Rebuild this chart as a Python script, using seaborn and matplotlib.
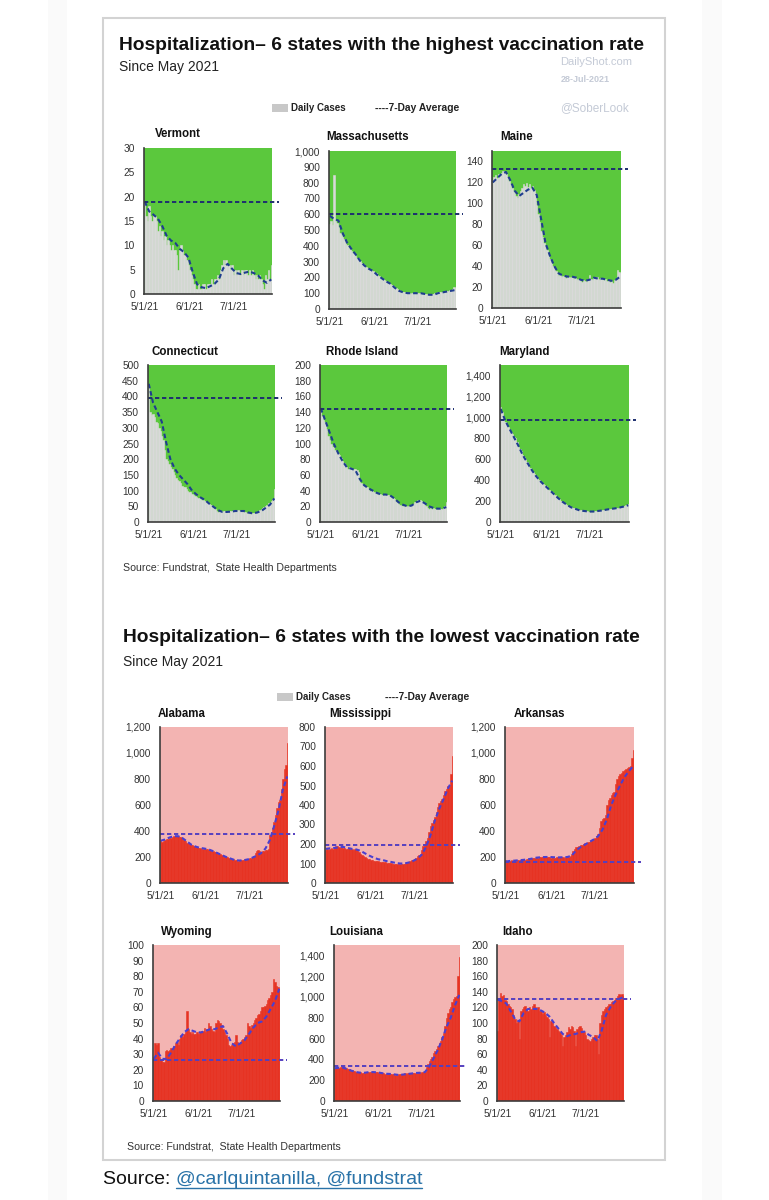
import numpy as np
import pandas as pd
import matplotlib
matplotlib.use('Agg')
import matplotlib.pyplot as plt
import seaborn as sns
from matplotlib import font_manager
from matplotlib.patches import Rectangle
from matplotlib.lines import Line2D

# ---------------- DATA ----------------
DAYS = list(range(88))              # 5/1/21 .. 7/27/21
AVG_DAYS = list(range(0, 88, 3))    # points
TICK_DAYS = [0, 31, 61]
TICK_LABELS = ['5/1/21', '6/1/21', '7/1/21']

TOP_STATES = ['Vermont', 'Massachusetts', 'Maine', 'Connecticut', 'Rhode Island', 'Maryland']
BOTTOM_STATES = ['Alabama', 'Mississippi', 'Arkansas', 'Wyoming', 'Louisiana', 'Idaho']

VERMONT_DAILY = [19,16,15,18,16,15,16,16,15,13, 14,12,13,11,12,10,11,10,9,10,
                 9,9,8,5,9,10,9,8,8,7, 6,5,4,3,2,1,1,2,1,1,
                 2,2,1,2,2,2,3,2,3,3, 4,3,5,6,7,6,7,6,6,5,
                 6,4,5,4,5,4,4,5,4,5, 5,4,5,4,5,4,3,4,3,4,
                 3,2,1,4,3,5,3,6]
VERMONT_AVG = [19,17,16.3,15.5,14,12,11,10.5,9.3,8.6, 7.5,4.5,2,1.4,1.2,1.6,2.1,3,5.3,6.2,
               5.2,4.3,4.1,4.4,4.6,4.3,3.8,2.8,2.3,3.0]

MASSACHUSETTS_DAILY = [540,560,530,850,560,545,520,480,470,455, 440,420,405,395,380,370,355,345,335,325,
                       320,305,290,285,275,265,260,255,250,245, 240,235,225,215,210,200,195,190,185,175,
                       170,165,160,150,145,140,130,125,118,115, 110,108,105,102,100,100,98,100,102,100,
                       98,100,102,100,98,95,95,92,90,92, 95,95,98,100,102,105,105,108,110,110,
                       112,115,115,118,120,125,140,130]
MASSACHUSETTS_AVG = [590,570,560,480,420,380,345,305,275,255, 240,215,195,175,160,135,115,105,100,100,
                     100,100,95,90,90,100,105,110,115,120]

MAINE_DAILY = [122,125,127,124,128,126,129,131,130,128, 125,121,118,115,112,110,107,105,109,112,
               115,118,117,119,116,118,115,117,113,110, 98,90,82,74,68,62,58,55,51,47,
               43,40,37,35,33,31,32,30,31,30, 29,31,30,29,30,28,29,28,27,28,
               26,25,27,26,25,28,32,28,27,29, 28,30,28,27,29,28,27,28,26,27,
               25,26,24,27,28,36,34,33]
MAINE_AVG = [120,124,128,130,122,112,107,110,113,115, 108,85,62,50,40,33,31,30,30,29,
             27,26,27,29,28,28,27,26,27,30]

CONNECTICUT_DAILY = [430,350,340,345,335,320,315,300,290,275, 260,230,200,195,185,175,170,160,150,140,
                     135,130,125,115,112,110,105,100,95,95, 90,85,82,80,78,75,72,70,70,68,
                     65,60,58,55,50,45,40,35,33,32, 34,33,35,34,33,35,34,36,35,38,
                     36,35,37,36,35,34,33,32,30,28, 27,25,28,30,32,33,35,38,40,45,
                     48,50,55,60,62,68,72,105]
CONNECTICUT_AVG = [440,380,350,320,255,200,170,150,135,120, 100,88,78,70,58,48,38,32,32,33,
                   35,35,35,30,28,30,35,45,55,75]

RHODE_ISLAND_DAILY = [142,135,130,128,118,110,105,100,96,95, 92,90,88,85,82,78,75,72,70,68,
                      70,69,68,67,68,66,64,52,50,48, 46,45,44,42,40,41,40,38,37,36,
                      35,36,35,34,35,36,35,34,33,32, 30,29,27,25,23,22,21,20,21,20,
                      19,20,21,22,23,25,26,28,27,28, 27,25,24,20,18,17,18,17,18,17,
                      16,17,18,17,16,18,20,25]
RHODE_ISLAND_AVG = [145,130,115,100,88,78,70,68,66,55, 47,43,40,37,35,35,34,30,25,22,
                    20,21,25,27,24,20,18,17,17,19]

MARYLAND_DAILY = [1100,1050,1000,960,940,910,890,860,840,810, 800,760,720,700,680,640,620,600,570,540,
                  520,500,480,460,440,420,405,390,375,360, 350,340,325,310,300,285,270,255,240,230,
                  215,205,195,180,172,165,155,148,140,135, 130,125,120,118,112,110,106,105,104,102,
                  100,98,100,100,102,104,106,108,110,112, 114,116,118,120,122,125,127,128,130,132,
                  135,138,140,150,152,158,165,175]
MARYLAND_AVG = [1080,970,890,810,730,640,570,500,440,390, 350,310,270,230,195,165,140,125,110,105,
                100,100,105,110,118,125,130,138,148,160]

ALABAMA_DAILY = [320,315,325,330,335,340,345,350,355,358, 360,362,358,355,352,340,330,320,310,305,
                 300,295,290,285,280,275,272,268,265,265, 262,260,258,255,255,250,245,240,235,230,
                 225,220,215,210,205,200,198,192,188,185, 182,178,175,172,175,178,176,180,182,185,
                 188,190,195,200,210,230,250,255,245,240, 245,250,252,255,260,370,390,420,470,520,
                 580,620,640,720,800,880,910,1080]
ALABAMA_AVG = [325,335,350,360,360,345,320,295,280,270, 265,258,245,230,215,200,188,176,173,175,
               182,195,210,230,265,330,440,560,720,820]

MISSISSIPPI_DAILY = [170,172,168,175,178,175,185,190,188,185, 182,184,180,178,176,175,178,175,172,170,
                     172,168,170,160,150,145,140,132,128,125, 122,120,118,115,115,112,113,110,110,108,
                     108,106,105,105,103,102,100,100,100,98, 97,96,97,98,100,102,105,108,112,116,
                     120,125,130,138,145,150,170,190,200,215, 230,260,290,310,325,340,365,390,410,420,
                     430,450,470,480,495,500,560,650]
MISSISSIPPI_AVG = [175,178,180,183,185,180,175,172,165,152, 140,130,122,118,112,108,103,100,100,105,
                   113,125,145,185,245,320,380,430,485,525]

ARKANSAS_DAILY = [175,170,168,172,178,170,175,172,178,175, 180,176,182,178,185,182,188,186,192,190,
                  195,198,196,200,198,202,200,198,202,200, 197,195,198,196,194,198,196,200,202,198,
                  196,200,205,200,210,225,250,265,275,280, 285,290,295,300,305,310,315,318,322,328,
                  335,345,360,375,420,480,495,500,520,600, 640,655,680,690,700,760,800,820,840,850,
                  860,870,880,885,890,900,960,1020]
ARKANSAS_AVG = [165,170,172,175,178,182,188,195,198,200, 200,198,197,198,200,210,250,275,295,315,
                335,360,410,490,600,680,750,815,860,900]

WYOMING_DAILY = [27,37,36,37,28,26,25,25,32,33, 32,33,34,33,35,37,38,36,40,42,
                 41,43,44,58,46,44,43,44,43,43, 44,43,44,45,45,47,44,46,50,48,
                 46,45,44,50,52,51,50,49,46,44, 42,40,36,35,36,37,38,42,38,37,
                 38,39,40,41,42,50,48,47,49,50, 52,53,55,56,58,60,60,61,62,65,
                 66,68,70,78,76,74,73,71]
WYOMING_AVG = [27,31,27,27,31,36,40,44,46,45, 44,44,45,46,46,47,48,43,37,35,
               37,39,43,47,50,51,54,59,64,72]

LOUISIANA_DAILY = [310,315,318,322,325,328,330,325,318,310, 305,300,295,290,285,282,280,278,275,272,
                   270,272,275,278,280,282,280,282,278,276, 275,272,270,268,265,262,260,258,260,262,
                   258,255,252,250,252,255,258,260,262,265, 262,265,268,270,268,270,272,270,272,275,
                   272,275,278,280,330,360,380,400,420,460, 480,500,530,560,580,620,650,720,800,850,
                   880,900,950,980,1000,1010,1200,1380]
LOUISIANA_AVG = [315,320,320,305,290,278,272,272,278,278, 275,268,262,260,255,250,255,260,265,270,
                 272,278,330,410,490,590,710,800,920,1020]

IDAHO_DAILY = [90,132,138,135,136,130,128,125,122,120, 118,110,105,100,102,80,115,118,120,122,
               118,115,120,118,122,125,120,118,120,116, 115,112,114,110,108,105,82,102,100,96,
               95,92,90,88,85,70,82,85,88,95, 92,96,95,90,70,92,95,96,94,90,
               88,85,80,78,77,80,82,85,84,80, 60,100,110,115,118,120,122,125,124,127,
               128,130,132,134,137,136,137,135]
IDAHO_AVG = [130,128,125,115,105,102,113,118,118,118, 116,113,108,100,93,86,83,85,86,88,
             89,85,82,77,90,110,120,127,131,133]

DAILY = {'Vermont': VERMONT_DAILY, 'Massachusetts': MASSACHUSETTS_DAILY, 'Maine': MAINE_DAILY,
         'Connecticut': CONNECTICUT_DAILY, 'Rhode Island': RHODE_ISLAND_DAILY, 'Maryland': MARYLAND_DAILY,
         'Alabama': ALABAMA_DAILY, 'Mississippi': MISSISSIPPI_DAILY, 'Arkansas': ARKANSAS_DAILY,
         'Wyoming': WYOMING_DAILY, 'Louisiana': LOUISIANA_DAILY, 'Idaho': IDAHO_DAILY}
AVG = {'Vermont': VERMONT_AVG, 'Massachusetts': MASSACHUSETTS_AVG, 'Maine': MAINE_AVG,
       'Connecticut': CONNECTICUT_AVG, 'Rhode Island': RHODE_ISLAND_AVG, 'Maryland': MARYLAND_AVG,
       'Alabama': ALABAMA_AVG, 'Mississippi': MISSISSIPPI_AVG, 'Arkansas': ARKANSAS_AVG,
       'Wyoming': WYOMING_AVG, 'Louisiana': LOUISIANA_AVG, 'Idaho': IDAHO_AVG}
REF_LEVEL = {'Vermont': 19, 'Massachusetts': 600, 'Maine': 133, 'Connecticut': 395,
             'Rhode Island': 144, 'Maryland': 975, 'Alabama': 375, 'Mississippi': 193,
             'Arkansas': 162, 'Wyoming': 26, 'Louisiana': 340, 'Idaho': 131}
Y_MAX = {'Vermont': 30, 'Massachusetts': 1000, 'Maine': 150, 'Connecticut': 500,
         'Rhode Island': 200, 'Maryland': 1500, 'Alabama': 1200, 'Mississippi': 800,
         'Arkansas': 1200, 'Wyoming': 100, 'Louisiana': 1500, 'Idaho': 200}
Y_TICK_TOP = {'Vermont': 30, 'Massachusetts': 1000, 'Maine': 140, 'Connecticut': 500,
              'Rhode Island': 200, 'Maryland': 1400, 'Alabama': 1200, 'Mississippi': 800,
              'Arkansas': 1200, 'Wyoming': 100, 'Louisiana': 1400, 'Idaho': 200}
Y_STEP = {'Vermont': 5, 'Massachusetts': 100, 'Maine': 20, 'Connecticut': 50,
          'Rhode Island': 20, 'Maryland': 200, 'Alabama': 200, 'Mississippi': 100,
          'Arkansas': 200, 'Wyoming': 10, 'Louisiana': 200, 'Idaho': 20}

# ---------------- LAYOUT (pixels) ----------------
W, H = 769, 1200
RECT = {  # left, right, top, bottom(zero line)
    'Vermont': (144, 272, 148, 294), 'Massachusetts': (329, 456, 151, 309), 'Maine': (492, 621, 151, 308),
    'Connecticut': (148, 275, 365, 522), 'Rhode Island': (320, 447, 365, 522), 'Maryland': (500, 629, 365, 522),
    'Alabama': (160, 288, 727, 883), 'Mississippi': (325, 453, 727, 883), 'Arkansas': (505, 634, 727, 883),
    'Wyoming': (153, 280, 945, 1101), 'Louisiana': (334, 460, 945, 1101), 'Idaho': (497, 624, 945, 1101)}
TITLE_XY = {
    'Vermont': (155, 134), 'Massachusetts': (326, 137), 'Maine': (500, 137),
    'Connecticut': (151, 352), 'Rhode Island': (326, 352), 'Maryland': (499, 352),
    'Alabama': (158, 714), 'Mississippi': (329, 714), 'Arkansas': (514, 714),
    'Wyoming': (161, 932), 'Louisiana': (329, 932), 'Idaho': (502, 932)}

GREEN, GREY_BAR = '#5bc83d', '#d9d9d9'
PINK, RED = '#f3b4b2', '#e63323'
TOP_AVG, TOP_REF = '#1f3d8f', '#1e2f70'
BOT_AVG, BOT_REF = '#4a3fd0', '#5540c0'
DASH = (0, (2.2, 1.4))

sns.set_style('white')
names = {f.name for f in font_manager.fontManager.ttflist}
NARROW = 'Liberation Sans Narrow' if 'Liberation Sans Narrow' in names else 'Liberation Sans'
plt.rcParams['font.family'] = [NARROW, 'DejaVu Sans']

fig = plt.figure(figsize=(W / 100, H / 100), dpi=100)
fig.patch.set_facecolor('white')


def fx(x):
    return x / W


def fy(y):
    return 1 - y / H


def txt(x, y, s, **kw):
    kw.setdefault('va', 'center')
    kw.setdefault('ha', 'left')
    return fig.text(fx(x), fy(y), s, **kw)


# faint page strips & frame
for x0, x1 in [(48, 67), (702, 722)]:
    fig.add_artist(Rectangle((fx(x0), 0), (x1 - x0) / W, 1, transform=fig.transFigure,
                             facecolor='#fafafa', edgecolor='none', zorder=-10))
fig.add_artist(Rectangle((fx(103), fy(1160)), (665 - 103) / W, (1160 - 18) / H, transform=fig.transFigure,
                         fill=False, edgecolor='#d3d3d3', linewidth=1.5))


def draw_panel(state, bg, bar, avg_col, ref_col):
    l, r, t, b = RECT[state]
    ax = fig.add_axes([fx(l), fy(b), (r - l) / W, (b - t) / H])
    df = pd.DataFrame({'day': DAYS, 'value': DAILY[state]})
    sns.barplot(data=df, x='day', y='value', color=bar, saturation=1, width=1.0,
                errorbar=None, edgecolor=bar, linewidth=0.4, ax=ax)
    sns.lineplot(x=AVG_DAYS, y=AVG[state], ax=ax, color=avg_col, linewidth=1.5, linestyle=DASH)
    ax.axhline(REF_LEVEL[state], xmin=0, xmax=1.057, clip_on=False, color=ref_col,
               linewidth=1.4, linestyle=DASH, zorder=5)
    ax.set_facecolor(bg)
    ax.set_xlim(-0.5, 87.5)
    ax.set_ylim(0, Y_MAX[state])
    ticks = np.arange(0, Y_TICK_TOP[state] + 1, Y_STEP[state])
    ax.set_yticks(ticks)
    ax.set_yticklabels([f'{int(v):,}' for v in ticks])
    ax.set_xticks(TICK_DAYS)
    ax.set_xticklabels(TICK_LABELS)
    ax.set_xlabel('')
    ax.set_ylabel('')
    ax.tick_params(axis='both', length=0, labelsize=7.3, colors='#333333')
    ax.tick_params(axis='y', pad=6.5)
    ax.tick_params(axis='x', pad=6)
    for side in ('top', 'right'):
        ax.spines[side].set_visible(False)
    for side in ('left', 'bottom'):
        ax.spines[side].set_color('#3c3c3c')
        ax.spines[side].set_linewidth(1.2)
        ax.spines[side].set_zorder(6)
    tx, ty = TITLE_XY[state]
    txt(tx, ty, state, fontsize=8.3, fontweight='bold', color='#111111')
    return ax


for s in TOP_STATES:
    draw_panel(s, GREEN, GREY_BAR, TOP_AVG, TOP_REF)
for s in BOTTOM_STATES:
    draw_panel(s, PINK, RED, BOT_AVG, BOT_REF)

# headers
txt(119, 45, 'Hospitalization\u2013 6 states with the highest vaccination rate', fontsize=13.8,
    fontweight='bold', color='#111111')
txt(119, 67, 'Since May 2021', fontsize=10, color='#222222')
txt(123, 637, 'Hospitalization\u2013 6 states with the lowest vaccination rate', fontsize=13.8,
    fontweight='bold', color='#111111')
txt(123, 662, 'Since May 2021', fontsize=10, color='#222222')

# watermark
txt(560, 62, 'DailyShot.com', fontsize=8, color='#c4cad6', family=['Liberation Sans', 'DejaVu Sans'])
txt(561, 80, '28-Jul-2021', fontsize=6.5, color='#c4cad6', fontweight='bold',
    family=['Liberation Sans', 'DejaVu Sans'])
txt(560, 108, '@SoberLook', fontsize=8.5, color='#c4cad6', family=['Liberation Sans', 'DejaVu Sans'])

# legends
for (rx, ry, lx1, lx2) in [(272, 108, 291, 375), (277, 697, 296, 385)]:
    fig.add_artist(Rectangle((fx(rx), fy(ry + 4)), 16 / W, 8 / H, transform=fig.transFigure,
                             facecolor='#c8c8c8', edgecolor='none'))
    txt(lx1, ry, 'Daily Cases', fontsize=7.0, fontweight='bold', color='#222222')
    txt(lx2, ry, '----7-Day Average', fontsize=7.4, fontweight='bold', color='#222222')

txt(123, 568, 'Source: Fundstrat,  State Health Departments', fontsize=7.6, color='#333333')
txt(127, 1147, 'Source: Fundstrat,  State Health Departments', fontsize=7.6, color='#333333')

# bottom source line with link
src = txt(103, 1180, 'Source: ', fontsize=14, color='#111111', family=['Liberation Sans', 'DejaVu Sans'])
fig.canvas.draw()
bb = src.get_window_extent()
link = fig.text(bb.x1 / W, fy(1180), '@carlquintanilla, @fundstrat', fontsize=14, color='#2a73a8',
                va='center', ha='left', family=['Liberation Sans', 'DejaVu Sans'])
fig.canvas.draw()
lb = link.get_window_extent()
uy = (lb.y0 + 1) / H
fig.add_artist(Line2D([lb.x0 / W, lb.x1 / W], [uy, uy], transform=fig.transFigure,
                      color='#2a73a8', linewidth=1.0))

fig.savefig('out.png', dpi=100, facecolor='white')
